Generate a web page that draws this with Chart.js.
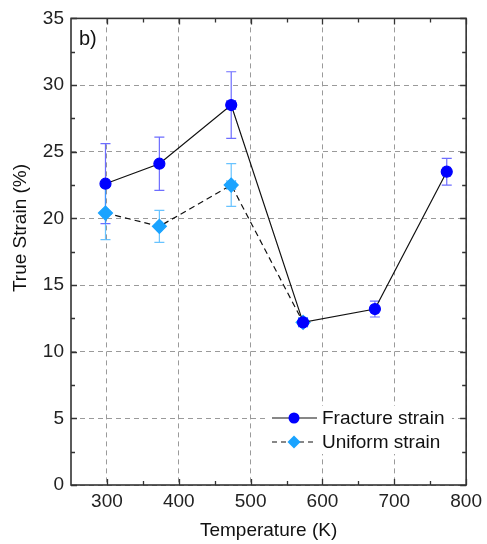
<!DOCTYPE html>
<html>
<head>
<meta charset="utf-8">
<script src="https://cdn.jsdelivr.net/npm/chart.js@4.4.0/dist/chart.umd.min.js"></script>
<style>
  html, body { margin: 0; padding: 0; background: #fff; }
  #wrap { width: 487px; height: 544px; }
</style>
</head>
<body>
<div id="wrap"><canvas id="strainChart" width="487" height="544"></canvas></div>
<script>
// dados
const fractureTemps = [298, 373, 473, 573, 673, 773];
const fractureStrain = [22.6, 24.1, 28.5, 12.2, 13.2, 23.5];
const fractureErr = [3.0, 2.0, 2.5, 0.3, 0.6, 1.0];
const fractureTempErr = [3, 3, 6, 6, 4, 5];

const uniformTemps = [298, 373, 473, 573];
const uniformStrain = [20.4, 19.4, 22.5, 12.2];
const uniformErr = [2.0, 1.2, 1.6, 0.3];
const uniformTempErr = [3, 3, 6, 6];

const xTicks = [300, 400, 500, 600, 700, 800];
const xMinorTicks = [350, 450, 550, 650, 750];
const yTicks = [0, 5, 10, 15, 20, 25, 30, 35];
const yMinorTicks = [2.5, 7.5, 12.5, 17.5, 22.5, 27.5, 32.5];

const FONT = '"Liberation Sans", Arial, sans-serif';

// barras de erro + moldura + legenda
const extrasPlugin = {
    id: 'extras',
    beforeDatasetsDraw(chart) {
        const ctx = chart.ctx;
        const xs = chart.scales.x, ys = chart.scales.y;
        const sets = [
            { t: fractureTemps, v: fractureStrain, e: fractureErr, te: fractureTempErr, color: 'rgba(60,60,255,0.75)' },
            { t: uniformTemps, v: uniformStrain, e: uniformErr, te: uniformTempErr, color: 'rgba(40,170,255,0.7)' }
        ];
        ctx.save();
        ctx.lineWidth = 1.2;
        sets.forEach(s => {
            ctx.strokeStyle = s.color;
            s.t.forEach((t, i) => {
                const px = xs.getPixelForValue(t);
                const top = ys.getPixelForValue(s.v[i] + s.e[i]);
                const bot = ys.getPixelForValue(s.v[i] - s.e[i]);
                const py = ys.getPixelForValue(s.v[i]);
                const l = xs.getPixelForValue(t - s.te[i]);
                const r = xs.getPixelForValue(t + s.te[i]);
                ctx.beginPath();
                ctx.moveTo(px, top); ctx.lineTo(px, bot);
                ctx.moveTo(px - 5, top); ctx.lineTo(px + 5, top);
                ctx.moveTo(px - 5, bot); ctx.lineTo(px + 5, bot);
                ctx.moveTo(l, py); ctx.lineTo(r, py);
                ctx.moveTo(l, py - 5); ctx.lineTo(l, py + 5);
                ctx.moveTo(r, py - 5); ctx.lineTo(r, py + 5);
                ctx.stroke();
            });
        });
        ctx.restore();
    },
    afterDraw(chart) {
        const ctx = chart.ctx;
        const a = chart.chartArea;
        const xs = chart.scales.x, ys = chart.scales.y;
        ctx.save();
        // ticks para dentro
        ctx.strokeStyle = '#333';
        ctx.lineWidth = 1.3;
        ctx.beginPath();
        xTicks.concat(xMinorTicks).forEach(v => {
            const len = xTicks.includes(v) ? 6 : 4;
            const px = Math.round(xs.getPixelForValue(v)) + 0.5;
            ctx.moveTo(px, a.bottom); ctx.lineTo(px, a.bottom - len);
            ctx.moveTo(px, a.top); ctx.lineTo(px, a.top + len);
        });
        yTicks.concat(yMinorTicks).forEach(v => {
            const len = yTicks.includes(v) ? 6 : 4;
            const py = Math.round(ys.getPixelForValue(v)) + 0.5;
            ctx.moveTo(a.left, py); ctx.lineTo(a.left + len, py);
            ctx.moveTo(a.right, py); ctx.lineTo(a.right - len, py);
        });
        ctx.stroke();
        // moldura
        ctx.lineWidth = 1.6;
        ctx.strokeRect(a.left, a.top, a.right - a.left, a.bottom - a.top);

        // rótulo b)
        ctx.fillStyle = '#111';
        ctx.font = '20px ' + FONT;
        ctx.textBaseline = 'alphabetic';
        ctx.fillText('b)', 79, 45);

        // título do eixo y (fora do centro, como no original)
        ctx.save();
        ctx.translate(21, 228);
        ctx.rotate(-Math.PI / 2);
        ctx.textAlign = 'center';
        ctx.textBaseline = 'middle';
        ctx.font = '19px ' + FONT;
        ctx.fillText('True Strain (%)', 0, 0);
        ctx.restore();

        // legenda
        ctx.fillStyle = '#fff';
        ctx.fillRect(268, 406, 184, 48);
        const rows = [
            { y: 418, label: 'Fracture strain', dash: [], style: 'circle', color: '#0000ff' },
            { y: 442, label: 'Uniform strain', dash: [5, 4], style: 'diamond', color: '#1aa3ff' }
        ];
        rows.forEach(r => {
            ctx.strokeStyle = '#111';
            ctx.lineWidth = 1.2;
            ctx.setLineDash(r.dash);
            ctx.beginPath();
            ctx.moveTo(272, r.y); ctx.lineTo(317, r.y);
            ctx.stroke();
            ctx.setLineDash([]);
            ctx.fillStyle = r.color;
            ctx.beginPath();
            if (r.style === 'circle') {
                ctx.arc(294, r.y, 5.5, 0, Math.PI * 2);
            } else {
                ctx.moveTo(294, r.y - 6.5); ctx.lineTo(300.5, r.y);
                ctx.lineTo(294, r.y + 6.5); ctx.lineTo(287.5, r.y);
                ctx.closePath();
            }
            ctx.fill();
            ctx.fillStyle = '#111';
            ctx.font = '19px ' + FONT;
            ctx.textBaseline = 'middle';
            ctx.fillText(r.label, 322, r.y + 1);
        });
        ctx.restore();
    }
};

const gridOpts = {
    color: '#9a9a9a',
    lineWidth: 1,
    drawTicks: false
};

new Chart(document.getElementById('strainChart').getContext('2d'), {
    type: 'scatter',
    data: {
        datasets: [{
            label: 'Fracture strain',
            data: fractureTemps.map((t, i) => ({ x: t, y: fractureStrain[i] })),
            showLine: true,
            borderColor: '#111',
            borderWidth: 1.2,
            backgroundColor: '#0000ff',
            pointBackgroundColor: '#0000ff',
            pointBorderColor: '#0000ff',
            pointRadius: 5.5,
            pointStyle: 'circle',
            order: 1
        }, {
            label: 'Uniform strain',
            data: uniformTemps.map((t, i) => ({ x: t, y: uniformStrain[i] })),
            showLine: true,
            borderColor: '#111',
            borderWidth: 1.2,
            borderDash: [6, 4],
            backgroundColor: '#1aa3ff',
            pointBackgroundColor: '#1aa3ff',
            pointBorderColor: '#1aa3ff',
            pointRadius: 7,
            pointStyle: 'rectRot',
            order: 2
        }]
    },
    options: {
        responsive: false,
        animation: false,
        layout: { padding: { top: 17, right: 19, left: 0, bottom: 0 } },
        plugins: {
            legend: { display: false },
            tooltip: { enabled: false }
        },
        scales: {
            x: {
                type: 'linear',
                min: 250,
                max: 800,
                afterBuildTicks: (scale) => { scale.ticks = xTicks.map(v => ({ value: v })); },
                afterFit: (scale) => { scale.height = 59; },
                grid: Object.assign({}, gridOpts),
                border: { display: false, dash: [5, 4] },
                ticks: {
                    color: '#222',
                    font: { size: 19, family: FONT },
                    padding: 5,
                    maxRotation: 0
                },
                title: {
                    display: true,
                    text: 'Temperature (K)',
                    color: '#111',
                    font: { size: 19, family: FONT },
                    padding: { top: 2, bottom: 2 }
                }
            },
            y: {
                min: 0,
                max: 35,
                afterBuildTicks: (scale) => { scale.ticks = yTicks.map(v => ({ value: v })); },
                afterFit: (scale) => { scale.width = 71; },
                grid: Object.assign({}, gridOpts),
                border: { display: false, dash: [5, 4] },
                ticks: {
                    color: '#222',
                    font: { size: 19, family: FONT },
                    padding: 7
                },
                title: { display: false }
            }
        }
    },
    plugins: [extrasPlugin]
});
</script>
</body>
</html>
